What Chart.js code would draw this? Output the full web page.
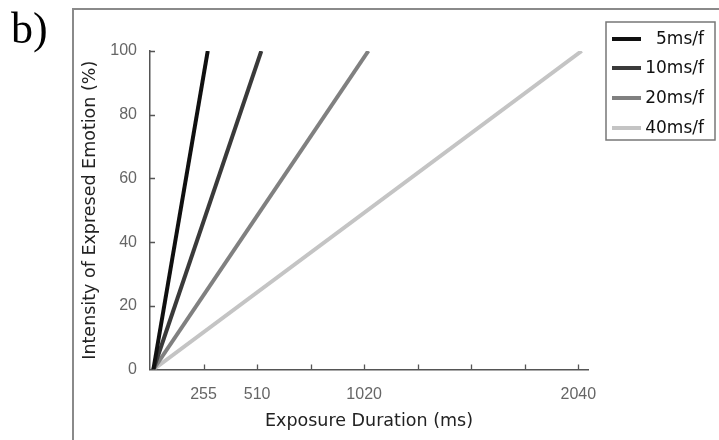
<!DOCTYPE html>
<html>
<head>
<meta charset="utf-8">
<script src="https://cdn.jsdelivr.net/npm/chart.js@4/dist/chart.umd.min.js"></script>
<style>
  html, body { margin: 0; padding: 0; background: #ffffff; }
  #wrap { position: relative; width: 719px; height: 440px; }
</style>
</head>
<body>
<div id="wrap"><canvas id="c" width="719" height="440"></canvas></div>
<script>
// ---- data ----
const seriesLabels = ['5ms/f', '10ms/f', '20ms/f', '40ms/f'];
const duration5 = [16, 275];
const duration10 = [16, 530];
const duration20 = [16, 1040];
const duration40 = [16, 2056];
const intensity = [0, 100];
const xTickValues = [255, 510, 765, 1020, 1275, 1530, 1785, 2040];
const xTickLabels = ['255', '510', '', '1020', '', '', '', '2040'];
const yTickValues = [0, 20, 40, 60, 80, 100];
const xMax = 2086;
const panelLabel = 'b)';
const xTitle = 'Exposure Duration (ms)';
const yTitle = 'Intensity of Expresed Emotion (%)';

const seriesColors = ['#101010', '#3a3a3a', '#808080', '#c4c4c4'];
const durations = [duration5, duration10, duration20, duration40];

const toPoints = (xs, ys) => xs.map((x, i) => ({ x: x, y: ys[i] }));

const datasets = seriesLabels.map((lab, i) => ({
  label: lab,
  data: toPoints(durations[i], intensity),
  borderColor: seriesColors[i],
  backgroundColor: seriesColors[i],
  borderWidth: 4,
  pointRadius: 0,
  fill: false,
  tension: 0
}));

const tickFont = { family: "'Liberation Sans', Arial, sans-serif", size: 16 };
const titleFont = { family: "'DejaVu Sans', 'Noto Sans', sans-serif", size: 17.5 };

const decorPlugin = {
  id: 'decor',
  beforeDraw(chart) {
    const ctx = chart.ctx;
    ctx.save();
    ctx.fillStyle = '#ffffff';
    ctx.fillRect(0, 0, chart.width, chart.height);
    // outer frame
    ctx.strokeStyle = '#8a8a8a';
    ctx.lineWidth = 2;
    ctx.strokeRect(73, 9, 700, 500);
    // panel label
    ctx.fillStyle = '#000000';
    ctx.font = "44px 'Liberation Serif', 'DejaVu Serif', serif";
    ctx.textBaseline = 'alphabetic';
    ctx.textAlign = 'left';
    ctx.fillText(panelLabel, 11, 43);
    ctx.restore();
  },
  afterDraw(chart) {
    const ctx = chart.ctx;
    const xs = chart.scales.x, ys = chart.scales.y;
    const area = chart.chartArea;
    ctx.save();
    // inward tick marks
    ctx.strokeStyle = '#555555';
    ctx.lineWidth = 1.3;
    ctx.beginPath();
    xTickValues.forEach(v => {
      const px = Math.round(xs.getPixelForValue(v)) + 0.5;
      ctx.moveTo(px, area.bottom);
      ctx.lineTo(px, area.bottom - 5);
    });
    yTickValues.forEach(v => {
      if (v === 0) return;
      const py = Math.round(ys.getPixelForValue(v)) + 0.5;
      ctx.moveTo(area.left, py);
      ctx.lineTo(area.left + 5, py);
    });
    ctx.stroke();
    // legend box
    const lx = 606, ly = 22, lw = 109, lh = 118;
    ctx.strokeStyle = '#777777';
    ctx.lineWidth = 1.5;
    ctx.strokeRect(lx, ly, lw, lh);
    const rowY = [39, 68, 98, 128];
    ctx.font = "17px 'DejaVu Sans', 'Noto Sans', sans-serif";
    ctx.textBaseline = 'middle';
    ctx.textAlign = 'right';
    chart.data.datasets.forEach((ds, i) => {
      ctx.strokeStyle = ds.borderColor;
      ctx.lineWidth = 4;
      ctx.beginPath();
      ctx.moveTo(612, rowY[i]);
      ctx.lineTo(641, rowY[i]);
      ctx.stroke();
      ctx.fillStyle = '#111111';
      ctx.fillText(ds.label, 704, rowY[i] + 1);
    });
    ctx.restore();
  }
};

new Chart(document.getElementById('c'), {
  type: 'line',
  data: { datasets: datasets },
  options: {
    responsive: false,
    animation: false,
    devicePixelRatio: 1,
    layout: { padding: { top: 51, right: 131, left: 0, bottom: 0 } },
    plugins: { legend: { display: false }, tooltip: { enabled: false } },
    scales: {
      x: {
        type: 'linear',
        min: 0,
        max: xMax,
        afterBuildTicks(scale) { scale.ticks = xTickValues.map(v => ({ value: v })); },
        afterFit(scale) { scale.height = 70.5; },
        grid: { display: false, drawTicks: false },
        border: { display: true, color: '#555555', width: 1.5 },
        ticks: {
          padding: 15,
          font: tickFont,
          color: '#666666',
          maxRotation: 0,
          autoSkip: false,
          callback(value) {
            const idx = xTickValues.indexOf(value);
            return idx >= 0 ? xTickLabels[idx] : '';
          }
        },
        title: {
          display: true,
          text: xTitle,
          font: titleFont,
          color: '#222222',
          padding: { top: 0, bottom: 8 }
        }
      },
      y: {
        type: 'linear',
        min: 0,
        max: 100,
        afterBuildTicks(scale) { scale.ticks = yTickValues.map(v => ({ value: v })); },
        afterFit(scale) { scale.width = 150; },
        grid: { display: false, drawTicks: false },
        border: { display: true, color: '#555555', width: 1.5 },
        ticks: {
          padding: 13,
          font: tickFont,
          color: '#666666',
          autoSkip: false
        },
        title: {
          display: true,
          text: yTitle,
          font: titleFont,
          color: '#222222',
          padding: { top: 80, bottom: 0 }
        }
      }
    }
  },
  plugins: [decorPlugin]
});
</script>
</body>
</html>
